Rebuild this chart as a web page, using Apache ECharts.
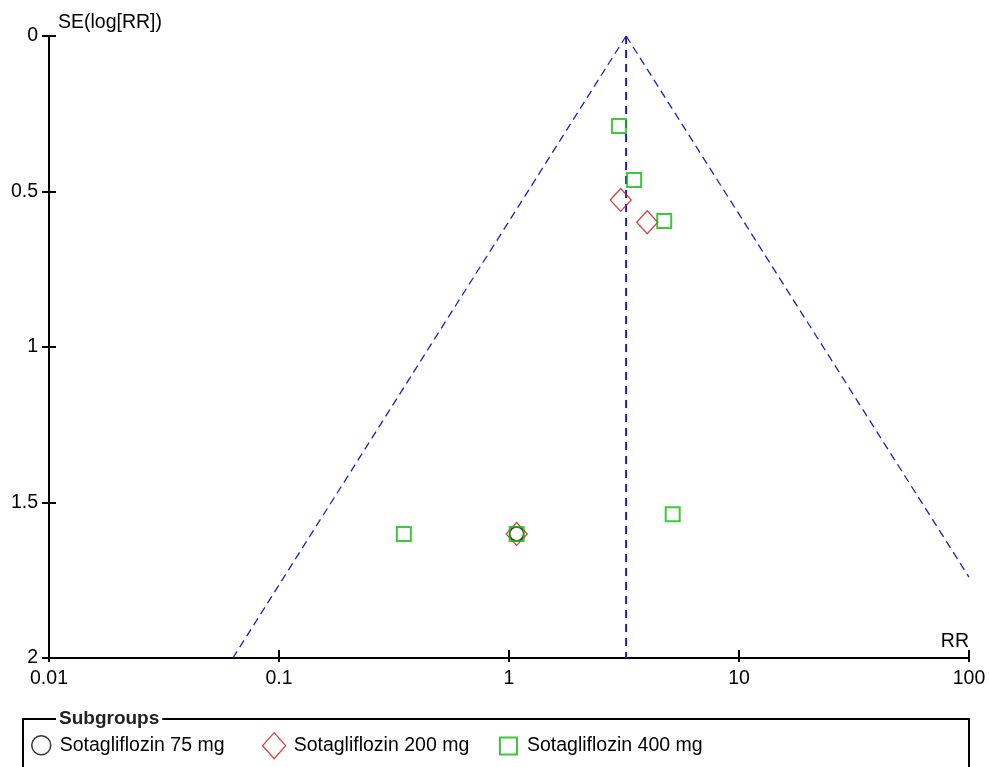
<!DOCTYPE html>
<html>
<head>
<meta charset="utf-8">
<title>Funnel plot – Sotagliflozin subgroups</title>
<script src="https://cdn.jsdelivr.net/npm/echarts@6/dist/echarts.min.js"></script>
<style>
  html, body { margin: 0; padding: 0; background: #fff; }
  #chart { width: 989px; height: 767px; }
</style>
</head>
<body>
<div id="chart"></div>
<script>
// Study estimates: risk ratio (RR) and standard error of log(RR), per dose subgroup
const rr75  = [1.08];
const se75  = [1.601];
const rr200 = [3.06, 3.99, 1.08];
const se200 = [0.527, 0.599, 1.601];
const rr400 = [3.01, 3.50, 4.73, 5.15, 0.349, 1.08];
const se400 = [0.289, 0.463, 0.595, 1.538, 1.601, 1.601];

// Pooled estimate and the pseudo 95% confidence limits of the funnel
const pooledRR = 3.23;
const funnelLeftRR  = [3.23, 0.063];
const funnelLeftSE  = [0, 2];
const funnelRightRR = [3.23, 100];
const funnelRightSE = [0, 1.74];

const xTicks = [0.01, 0.1, 1, 10, 100];
const yTicks = [0, 0.5, 1, 1.5, 2];

const groupNames = ['Sotagliflozin 75 mg', 'Sotagliflozin 200 mg', 'Sotagliflozin 400 mg'];

const FONT = 'Liberation Sans, Arial, sans-serif';
const FS = 19.5;
const BLUE = '#1c1ccc';
const RED = '#cc1010';
const GREEN = '#0cbc0c';

const pairs = (xs, ys) => xs.map((x, i) => [x, ys[i]]);

const chart = echarts.init(document.getElementById('chart'), null, { renderer: 'canvas' });

const xBase = {
  type: 'log',
  logBase: 10,
  min: xTicks[0],
  max: xTicks[xTicks.length - 1],
  position: 'bottom',
  splitLine: { show: false },
  minorTick: { show: false }
};
const yBase = {
  type: 'value',
  inverse: true,
  min: yTicks[0],
  max: yTicks[yTicks.length - 1],
  interval: 0.5,
  position: 'left',
  splitLine: { show: false }
};

chart.setOption({
  animation: false,
  backgroundColor: '#fff',
  grid: { left: 49, right: 20, top: 36, bottom: 109, containLabel: false },
  xAxis: [
    Object.assign({}, xBase, {
      name: 'RR',
      nameLocation: 'end',
      nameGap: 0,
      nameTextStyle: { fontFamily: FONT, fontSize: FS, color: '#000', align: 'right', verticalAlign: 'bottom', padding: [0, 0, 6, 0] },
      axisLine: { show: true, onZero: false, lineStyle: { color: '#000', width: 2 } },
      axisTick: { show: true, inside: true, length: 8, lineStyle: { color: '#000', width: 2 } },
      axisLabel: {
        show: true, margin: 11, fontFamily: FONT, fontSize: FS, color: '#000',
        formatter: v => String(v)
      }
    }),
    Object.assign({}, xBase, {
      axisLine: { show: false, onZero: false },
      axisTick: { show: true, inside: false, length: 4, lineStyle: { color: '#000', width: 2 } },
      axisLabel: { show: false }
    })
  ],
  yAxis: [
    Object.assign({}, yBase, {
      name: 'SE(log[RR])',
      nameLocation: 'start',
      nameGap: 3,
      nameTextStyle: { fontFamily: FONT, fontSize: FS, color: '#000', align: 'left', verticalAlign: 'bottom', padding: [0, 0, 0, 9] },
      axisLine: { show: true, onZero: false, lineStyle: { color: '#000', width: 2 } },
      axisTick: { show: true, inside: false, length: 7, lineStyle: { color: '#000', width: 2 } },
      axisLabel: {
        show: true, margin: 11, fontFamily: FONT, fontSize: FS, color: '#000',
        formatter: v => String(v)
      }
    }),
    Object.assign({}, yBase, {
      axisLine: { show: false, onZero: false },
      axisTick: { show: true, inside: true, length: 7, lineStyle: { color: '#000', width: 2 } },
      axisLabel: { show: false }
    })
  ],
  legend: [
    {
      data: [{ name: groupNames[0], icon: 'circle', itemStyle: { color: 'transparent', borderColor: '#000', borderWidth: 1.5 } }],
      left: 31, top: 735, padding: 0, itemWidth: 19, itemHeight: 20,
      textStyle: { fontFamily: FONT, fontSize: FS, color: '#000', padding: [0, 0, 0, 4] },
      selectedMode: false
    },
    {
      data: [{ name: groupNames[1], icon: 'diamond', itemStyle: { color: 'transparent', borderColor: RED, borderWidth: 1.3 } }],
      left: 262, top: 732, padding: 0, itemWidth: 23, itemHeight: 26,
      textStyle: { fontFamily: FONT, fontSize: FS, color: '#000', padding: [0, 0, 0, 3] },
      selectedMode: false
    },
    {
      data: [{ name: groupNames[2], icon: 'rect', itemStyle: { color: 'transparent', borderColor: GREEN, borderWidth: 2 } }],
      left: 499, top: 736, padding: 0, itemWidth: 17, itemHeight: 17,
      textStyle: { fontFamily: FONT, fontSize: FS, color: '#000', padding: [0, 0, 0, 5] },
      selectedMode: false
    }
  ],
  graphic: [
    {
      type: 'rect', silent: true, z: 10,
      shape: { x: 23, y: 719, width: 946, height: 80 },
      style: { fill: 'none', stroke: '#000', lineWidth: 2 }
    },
    {
      type: 'text', silent: true, z: 11,
      x: 56, y: 719,
      style: {
        text: 'Subgroups', fontFamily: FONT, fontSize: 19, fontWeight: 'bold', fill: '#222',
        verticalAlign: 'middle', backgroundColor: '#fff', padding: [0, 3]
      }
    }
  ],
  series: [
    {
      name: 'Pooled estimate', type: 'line', silent: true, symbol: 'none', z: 1,
      data: [[pooledRR, yTicks[0]], [pooledRR, yTicks[yTicks.length - 1]]],
      lineStyle: { color: BLUE, width: 2, type: [8, 6] }
    },
    {
      name: 'Lower limit', type: 'line', silent: true, symbol: 'none', z: 1,
      data: pairs(funnelLeftRR, funnelLeftSE),
      lineStyle: { color: BLUE, width: 1.3, type: [8, 5] }
    },
    {
      name: 'Upper limit', type: 'line', silent: true, symbol: 'none', z: 1,
      data: pairs(funnelRightRR, funnelRightSE),
      lineStyle: { color: BLUE, width: 1.3, type: [8, 5] }
    },
    {
      name: groupNames[0], type: 'scatter', symbol: 'circle', symbolSize: 14, z: 3,
      data: pairs(rr75, se75),
      itemStyle: { color: 'transparent', borderColor: '#000', borderWidth: 1.5 }
    },
    {
      name: groupNames[1], type: 'scatter', symbol: 'diamond', symbolSize: [21, 23], z: 4,
      data: pairs(rr200, se200),
      itemStyle: { color: 'transparent', borderColor: RED, borderWidth: 1.3 }
    },
    {
      name: groupNames[2], type: 'scatter', symbol: 'rect', symbolSize: 14, z: 5,
      data: pairs(rr400, se400),
      itemStyle: { color: 'transparent', borderColor: GREEN, borderWidth: 2 }
    }
  ]
});
</script>
</body>
</html>
